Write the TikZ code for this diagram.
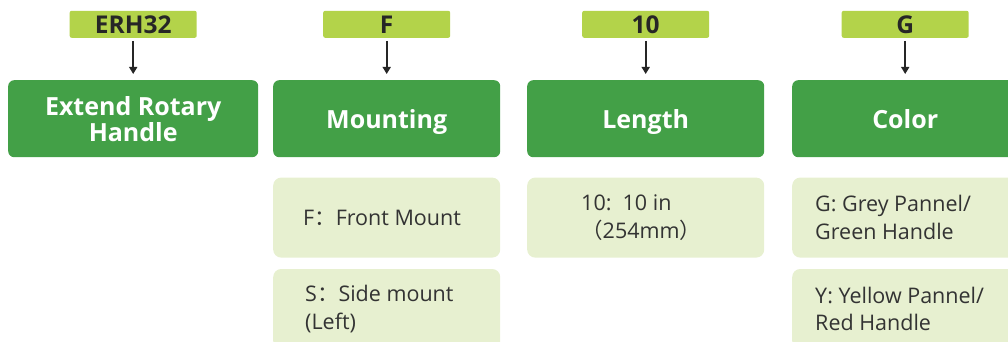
\documentclass[tikz,border=0pt]{standalone}
\usepackage{fontspec}
\setmainfont{Open Sans}
\newfontfamily\cjk{Noto Sans CJK SC}
\usepackage{tikz}
\usetikzlibrary{arrows.meta,positioning}
\definecolor{hgreen}{RGB}{67,160,71}
\definecolor{tlime}{RGB}{179,211,74}
\definecolor{olight}{RGB}{231,240,208}
\definecolor{otext}{RGB}{51,51,51}
\tikzstyle{tag} = [rectangle, fill=tlime, rounded corners=2pt, inner sep=0pt, minimum width=127pt, minimum height=27pt, text=black!85, font=\fontsize{24.5}{24}\selectfont\bfseries]
\tikzstyle{head} = [rectangle, fill=hgreen, rounded corners=6pt, inner sep=0pt, minimum height=77pt, align=center, text depth=0pt, text=white, font=\fontsize{25}{23}\selectfont\bfseries]
\tikzstyle{opt} = [rectangle, fill=olight, rounded corners=8pt, inner sep=0pt, minimum height=80pt]
\tikzstyle{txt} = [anchor=west, align=left, inner sep=0pt, text=otext, font=\fontsize{21.5}{27.5}\selectfont]
\tikzstyle{arr} = [-{Triangle[width=8pt,length=7pt]}, line width=1.6pt, black!85, shorten <=3pt, shorten >=6pt]

\begin{document}
\begin{tikzpicture}
		[
			x=1pt, y=-1pt,
		]

		\useasboundingbox (0,0) rectangle (1008,342);

		\node[head, minimum width=250pt, anchor=north west] (erh) at (8,80) {Extend Rotary\\Handle};
		\node[head, minimum width=227pt, anchor=north west] (mnt) at (273,80) {Mounting};
		\node[head, minimum width=237pt, anchor=north west] (len) at (527,80) {Length};
		\node[head, minimum width=226pt, anchor=north west] (col) at (792,80) {Color};

		\node[tag, above=42pt of erh] (terh) {ERH32};
		\node[tag, above=42pt of mnt] (tmnt) {F};
		\node[tag, above=42pt of len] (tlen) {10};
		\node[tag, above=42pt of col] (tcol) {G};

		\draw[arr] (terh) -- (erh);
		\draw[arr] (tmnt) -- (mnt);
		\draw[arr] (tlen) -- (len);
		\draw[arr] (tcol) -- (col);

		\node[opt, minimum width=227pt, below=20pt of mnt] (mf) {};
		\node[opt, minimum width=227pt, below=11pt of mf] (ms) {};
		\node[opt, minimum width=237pt, below=20pt of len] (l10) {};
		\node[opt, minimum width=226pt, below=20pt of col] (cg) {};
		\node[opt, minimum width=226pt, below=11pt of cg] (cy) {};

		\node[txt] (mft) at ([xshift=30pt]mf.west) {F{\cjk ：}Front Mount};
		\node[txt] (mst) at ([xshift=32pt]ms.west) {S{\cjk ：}Side mount\\(Left)};
		\node[txt] (l10t) at ([xshift=54pt]l10.west) {10:\ \ 10 in\\{\cjk （}254mm{\cjk ）}};
		\node[txt] (cgt) at ([xshift=23pt]cg.west) {G: Grey Pannel/\\Green Handle};
		\node[txt] (cyt) at ([xshift=23pt]cy.west) {Y: Yellow Pannel/\\Red Handle};
	\end{tikzpicture}
\end{document}
